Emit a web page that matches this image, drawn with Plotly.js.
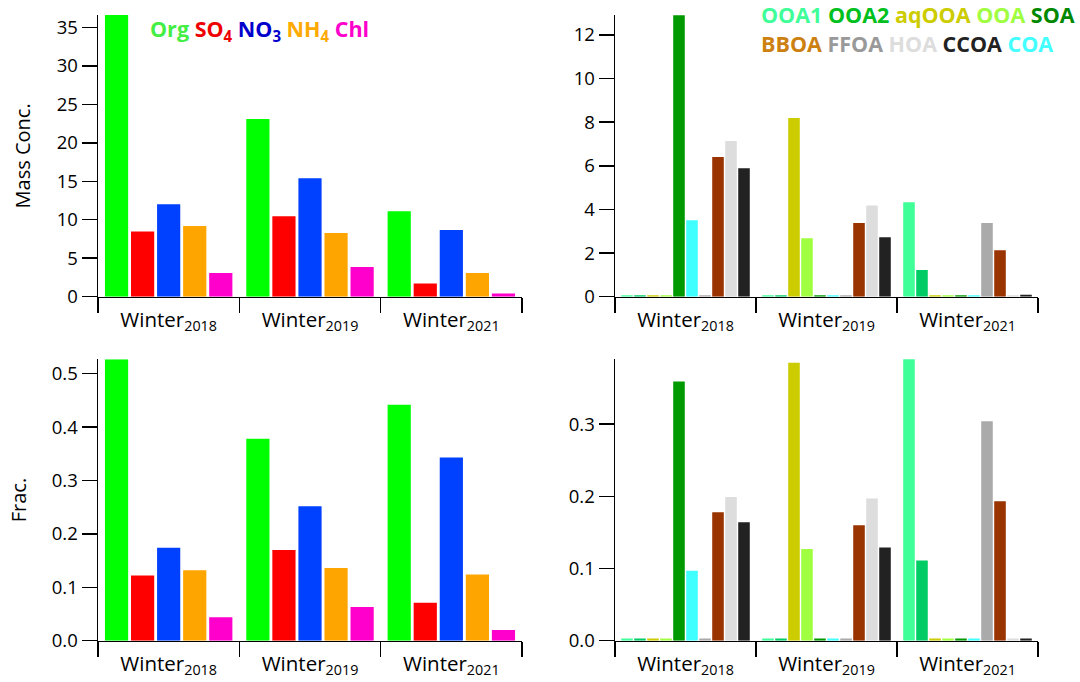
<!DOCTYPE html>
<html>
<head>
<meta charset="utf-8">
<script src="https://cdn.plot.ly/plotly-3.0.1.min.js"></script>
<style>html,body{margin:0;padding:0;background:#fff;}#chart{width:1080px;height:682px;}</style>
</head>
<body>
<div id="chart"></div>
<script>
// ---- categories ----
const seasons = ['Winter<sub>2018</sub>', 'Winter<sub>2019</sub>', 'Winter<sub>2021</sub>'];

// ---- bulk species (left panels) ----
const bulkNames  = ['Org', 'SO4', 'NO3', 'NH4', 'Chl'];
const bulkColors = ['#00ff00', '#ff0000', '#0040ff', '#ffa500', '#ff00cc'];
const massOrg = [36.6, 23.1, 11.1];
const massSO4 = [8.46, 10.45, 1.73];
const massNO3 = [12.0, 15.4, 8.67];
const massNH4 = [9.19, 8.28, 3.08];
const massChl = [3.08, 3.86, 0.43];
const fracOrg = [0.527, 0.378, 0.442];
const fracSO4 = [0.122, 0.170, 0.071];
const fracNO3 = [0.174, 0.252, 0.343];
const fracNH4 = [0.132, 0.136, 0.124];
const fracChl = [0.044, 0.063, 0.020];

// ---- OA factors (right panels) ----
const oaNames  = ['OOA1', 'OOA2', 'aqOOA', 'OOA', 'SOA', 'COA', 'FFOA', 'BBOA', 'HOA', 'CCOA'];
const oaColors = ['#40ff99', '#00cc66', '#cccc00', '#a0ff40', '#009900', '#40ffff', '#aaaaaa', '#993300', '#dddddd', '#222222'];
const massOOA1  = [0.07, 0.07, 4.33];
const massOOA2  = [0.07, 0.07, 1.22];
const massAqOOA = [0.07, 8.19, 0.07];
const massOOA   = [0.07, 2.68, 0.07];
const massSOA   = [12.9, 0.07, 0.07];
const massCOA   = [3.50, 0.07, 0.07];
const massFFOA  = [0.07, 0.07, 3.38];
const massBBOA  = [6.40, 3.38, 2.13];
const massHOA   = [7.13, 4.18, 0.07];
const massCCOA  = [5.89, 2.72, 0.09];
const fracOOA1  = [0.003, 0.003, 0.390];
const fracOOA2  = [0.003, 0.003, 0.111];
const fracAqOOA = [0.003, 0.385, 0.003];
const fracOOA   = [0.003, 0.127, 0.003];
const fracSOA   = [0.359, 0.003, 0.003];
const fracCOA   = [0.097, 0.003, 0.003];
const fracFFOA  = [0.003, 0.003, 0.304];
const fracBBOA  = [0.178, 0.160, 0.193];
const fracHOA   = [0.199, 0.197, 0.003];
const fracCCOA  = [0.164, 0.129, 0.003];

// ---- legend labels ----
const bulkLegend = [
  ['Org', '#44ee44'], ['SO<sub>4</sub>', '#ee0000'], ['NO<sub>3</sub>', '#0000cc'],
  ['NH<sub>4</sub>', '#ffaa00'], ['Chl', '#ff00cc']
];
const oaLegend1 = [['OOA1', '#40ff99'], ['OOA2', '#00c020'], ['aqOOA', '#cccc00'], ['OOA', '#a0ff40'], ['SOA', '#008800']];
const oaLegend2 = [['BBOA', '#cc8010'], ['FFOA', '#999999'], ['HOA', '#dddddd'], ['CCOA', '#222222'], ['COA', '#44ffff']];

const bulkMass = [massOrg, massSO4, massNO3, massNH4, massChl];
const bulkFrac = [fracOrg, fracSO4, fracNO3, fracNH4, fracChl];
const oaMass = [massOOA1, massOOA2, massAqOOA, massOOA, massSOA, massCOA, massFFOA, massBBOA, massHOA, massCCOA];
const oaFrac = [fracOOA1, fracOOA2, fracAqOOA, fracOOA, fracSOA, fracCOA, fracFFOA, fracBBOA, fracHOA, fracCCOA];

const traces = [];
function addBars(series, names, colors, xa, ya, og) {
  series.forEach((vals, i) => {
    traces.push({
      type: 'bar', x: seasons, y: vals, name: names[i],
      marker: {color: colors[i], line: {width: 0}},
      xaxis: xa, yaxis: ya, offsetgroup: og + i, showlegend: false,
      hoverinfo: 'x+y+name'
    });
  });
}
addBars(bulkMass, bulkNames, bulkColors, 'x', 'y', 'a');
addBars(oaMass, oaNames, oaColors, 'x2', 'y2', 'b');
addBars(bulkFrac, bulkNames, bulkColors, 'x3', 'y3', 'c');
addBars(oaFrac, oaNames, oaColors, 'x4', 'y4', 'd');

const FONT = 'Open Sans, Noto Sans, sans-serif';
const W = 1080, H = 682;
const xL = [98 / W, 522 / W], xR = [615 / W, 1038 / W];
const yT = [1 - 296.7 / H, 1 - 15 / H], yB = [1 - 640.7 / H, 1 - 359.3 / H];

function xax(dom, anchor) {
  return {
    domain: dom, anchor: anchor, type: 'category', tickson: 'boundaries',
    showline: true, linecolor: '#000', linewidth: 1.5,
    ticks: 'outside', ticklen: 15, tickwidth: 1.5, tickcolor: '#000',
    ticklabelstandoff: 4,
    showgrid: false, zeroline: false, fixedrange: true,
    tickfont: {family: FONT, size: 20.5, color: '#000'}
  };
}
function yax(dom, anchor, range, dtick, fmt, title) {
  const a = {
    domain: dom, anchor: anchor, range: range, dtick: dtick, tick0: 0,
    showline: true, linecolor: '#000', linewidth: 1.5,
    ticks: 'outside', ticklen: 15, tickwidth: 1.5, tickcolor: '#000',
    showgrid: false, zeroline: false, fixedrange: true,
    tickfont: {family: FONT, size: 18.5, color: '#000'}
  };
  if (fmt) a.tickformat = fmt;
  if (title) a.title = {text: title, font: {family: FONT, size: 20, color: '#000'}, standoff: 20};
  return a;
}

function legendText(items) {
  return '<b>' + items.map(it => '<span style="color:' + it[1] + '">' + it[0] + '</span>').join(' ') + '</b>';
}

const layout = {
  width: W, height: H,
  margin: {l: 0, r: 0, t: 0, b: 0},
  paper_bgcolor: '#fff', plot_bgcolor: '#fff',
  barmode: 'group', bargap: 0.078, bargroupgap: 0.11,
  showlegend: false,
  font: {family: FONT, color: '#000'},
  xaxis: xax(xL, 'y'),
  yaxis: yax(yT, 'x', [0, 36.6], 5, null, 'Mass Conc.'),
  xaxis2: xax(xR, 'y2'),
  yaxis2: yax(yT, 'x2', [0, 12.91], 2, null, null),
  xaxis3: xax(xL, 'y3'),
  yaxis3: yax(yB, 'x3', [0, 0.527], 0.1, '.1f', 'Frac.'),
  xaxis4: xax(xR, 'y4'),
  yaxis4: yax(yB, 'x4', [0, 0.3897], 0.1, '.1f', null),
  annotations: [
    {text: legendText(bulkLegend), xref: 'paper', yref: 'paper', x: 148 / W, y: 1 - 30 / H,
     xanchor: 'left', yanchor: 'middle', showarrow: false, font: {family: FONT, size: 21.5}},
    {text: legendText(oaLegend1), xref: 'paper', yref: 'paper', x: 759 / W, y: 1 - 15 / H,
     xanchor: 'left', yanchor: 'middle', showarrow: false, font: {family: FONT, size: 21.5}},
    {text: legendText(oaLegend2), xref: 'paper', yref: 'paper', x: 759 / W, y: 1 - 44 / H,
     xanchor: 'left', yanchor: 'middle', showarrow: false, font: {family: FONT, size: 21.5}}
  ]
};

Plotly.newPlot('chart', traces, layout, {displayModeBar: false, staticPlot: true});
</script>
</body>
</html>
